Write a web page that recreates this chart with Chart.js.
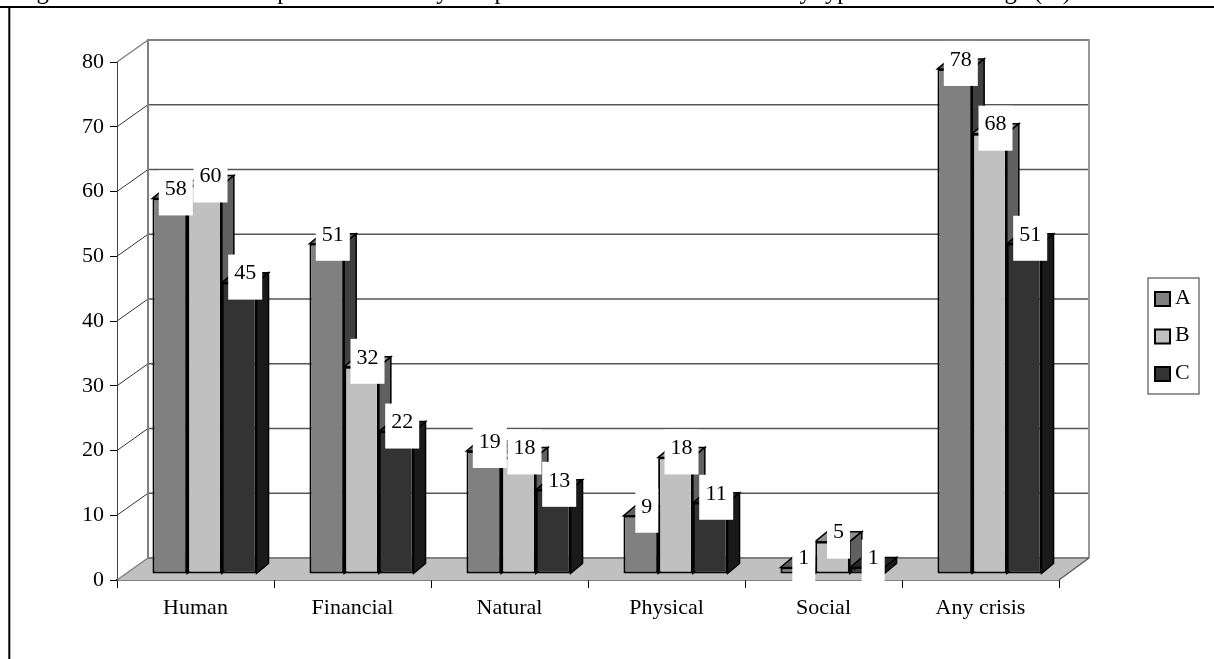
<!DOCTYPE html>
<html>
<head>
<meta charset="utf-8">
<style>
  html, body { margin: 0; padding: 0; background: #fff; overflow: hidden; }
  #wrap { position: relative; width: 1214px; height: 659px; }
</style>
<script src="https://cdn.jsdelivr.net/npm/chart.js@4"></script>
</head>
<body>
<div id="wrap"><canvas id="crisisChart" width="1214" height="659"></canvas></div>
<script>
const categories = ['Human', 'Financial', 'Natural', 'Physical', 'Social', 'Any crisis'];
const seriesA = [58, 51, 19, 9, 1, 78];
const seriesB = [60, 32, 18, 18, 5, 68];
const seriesC = [45, 22, 13, 11, 1, 51];
const titleText = 'Figure 3: Incidence of the past two to five years perceived crises at least once by type of crisis and age (%)';

const serif = '"Liberation Serif", "Times New Roman", serif';
const fontPx = 22;

// fake 3D: depth of the floor/walls, and how far the bars sit inside it
const depthX = 31, depthY = 22;
const barShiftX = 9, barShiftY = 6;
const barDepthX = 12, barDepthY = 10;

const faces = [
  { front: '#808080', top: '#606060', side: '#404040' },
  { front: '#c0c0c0', top: '#909090', side: '#606060' },
  { front: '#333333', top: '#262626', side: '#1a1a1a' }
];

function poly(ctx, pts, fill, stroke, lw) {
  ctx.beginPath();
  pts.forEach((p, i) => i ? ctx.lineTo(p[0], p[1]) : ctx.moveTo(p[0], p[1]));
  ctx.closePath();
  if (fill) { ctx.fillStyle = fill; ctx.fill(); }
  if (stroke) { ctx.strokeStyle = stroke; ctx.lineWidth = lw; ctx.stroke(); }
}

function line(ctx, x1, y1, x2, y2, color, lw) {
  ctx.beginPath();
  ctx.moveTo(x1, y1);
  ctx.lineTo(x2, y2);
  ctx.strokeStyle = color;
  ctx.lineWidth = lw;
  ctx.stroke();
}

// outer frame and the line of text running above it
const framePlugin = {
  id: 'frame',
  beforeDraw(chart) {
    const ctx = chart.ctx;
    ctx.save();
    ctx.fillStyle = '#000';
    ctx.font = '24.7px ' + serif;
    ctx.textBaseline = 'alphabetic';
    ctx.textAlign = 'left';
    ctx.fillText(titleText, 16, -1);
    line(ctx, 0, 7, 1214, 7, '#000', 2);
    line(ctx, 9.3, 6, 9.3, 659, '#000', 2);
    ctx.restore();
  }
};

// back wall, floor, gridlines, then the top and side face of every bar
const wallPlugin = {
  id: 'walls',
  beforeDatasetsDraw(chart) {
    const ctx = chart.ctx;
    const y = chart.scales.y, a = chart.chartArea;
    const y0 = y.getPixelForValue(0), yMax = y.getPixelForValue(80);
    ctx.save();
    y.ticks.forEach(t => {
      if (t.value === 0) return;
      const py = y.getPixelForValue(t.value);
      const top = t.value === 80;
      line(ctx, a.left + depthX, py - depthY, a.right + depthX - 1, py - depthY, top ? '#808080' : '#555', top ? 2 : 1.5);
      line(ctx, a.left, py, a.left + depthX, py - depthY, top ? '#808080' : '#333', top ? 1.5 : 1);
    });
    line(ctx, a.left + depthX, yMax - depthY - 1, a.left + depthX, y0 - depthY, '#808080', 2);
    line(ctx, a.right + depthX - 1, yMax - depthY - 1, a.right + depthX - 1, y0 - depthY, '#999', 2);
    poly(ctx, [[a.left, y0], [a.left + depthX, y0 - depthY], [a.right + depthX - 1, y0 - depthY], [a.right, y0]], '#c0c0c0');
    line(ctx, a.left, y0, a.left + depthX, y0 - depthY, '#808080', 1.5);
    line(ctx, a.left + depthX, y0 - depthY, a.right + depthX - 1, y0 - depthY, '#808080', 2);
    line(ctx, a.right, y0, a.right + depthX - 1, y0 - depthY, '#555', 1.2);

    ctx.translate(barShiftX, -barShiftY);
    chart.data.datasets.forEach((ds, i) => {
      chart.getDatasetMeta(i).data.forEach(bar => {
        const p = bar.getProps(['x', 'y', 'base', 'width']);
        const l = p.x - p.width / 2, r = p.x + p.width / 2;
        poly(ctx, [[l, p.y], [l + barDepthX, p.y - barDepthY], [r + barDepthX, p.y - barDepthY], [r, p.y]], faces[i].top, '#000', 1.5);
        poly(ctx, [[r, p.y], [r + barDepthX, p.y - barDepthY], [r + barDepthX, p.base - barDepthY], [r, p.base]], faces[i].side, '#000', 1.5);
      });
    });
    ctx.restore();
    // front faces get drawn by the library with the same offset
    ctx.save();
    ctx.translate(barShiftX, -barShiftY);
  },
  afterDatasetsDraw(chart) {
    const ctx = chart.ctx;
    ctx.restore();
    ctx.save();
    ctx.translate(barShiftX, -barShiftY);
    // white label tags sit above all the bars
    ctx.font = fontPx + 'px ' + serif;
    ctx.textAlign = 'center';
    ctx.textBaseline = 'middle';
    chart.data.datasets.forEach((ds, i) => {
      chart.getDatasetMeta(i).data.forEach((bar, j) => {
        const p = bar.getProps(['x', 'y']);
        const text = String(ds.data[j]);
        const w = text.length > 1 ? 34 : 23;
        ctx.fillStyle = '#fff';
        ctx.fillRect(p.x + 6 - w / 2, p.y - 28, w, 45);
        ctx.fillStyle = '#000';
        ctx.fillText(text, p.x + 6, p.y - 9);
      });
    });
    ctx.restore();
  }
};

// legend box on the right
const legendPlugin = {
  id: 'sideLegend',
  afterDraw(chart) {
    const ctx = chart.ctx;
    ctx.save();
    ctx.strokeStyle = '#333';
    ctx.lineWidth = 1;
    ctx.strokeRect(1148, 278, 51, 116);
    ctx.font = fontPx + 'px ' + serif;
    ctx.textAlign = 'left';
    ctx.textBaseline = 'middle';
    chart.data.datasets.forEach((ds, i) => {
      const sy = 292 + i * 37.5;
      ctx.fillStyle = ds.backgroundColor;
      ctx.fillRect(1155, sy, 15, 14);
      ctx.strokeStyle = '#000';
      ctx.lineWidth = 2;
      ctx.strokeRect(1155, sy, 15, 14);
      ctx.fillStyle = '#000';
      ctx.fillText(ds.label, 1175, sy + 6);
    });
    ctx.restore();
  }
};

function barSet(label, values, i) {
  return {
    label,
    data: values,
    backgroundColor: faces[i].front,
    borderColor: '#000',
    borderWidth: 2,
    borderSkipped: false,
    categoryPercentage: 0.663,
    barPercentage: 1
  };
}

new Chart(document.getElementById('crisisChart').getContext('2d'), {
  type: 'bar',
  data: {
    labels: categories,
    datasets: [barSet('A', seriesA, 0), barSet('B', seriesB, 1), barSet('C', seriesC, 2)]
  },
  options: {
    responsive: false,
    animation: false,
    layout: { padding: { top: 62, right: 155 } },
    plugins: { legend: { display: false }, tooltip: { enabled: false } },
    scales: {
      x: {
        z: 1,
        afterFit: s => { s.height = 79; },
        grid: { drawOnChartArea: false, color: '#000', tickLength: 8, offset: true },
        border: { color: '#000', width: 1.5 },
        ticks: { color: '#000', font: { family: serif, size: fontPx }, padding: 7, maxRotation: 0 }
      },
      y: {
        z: 1,
        min: 0,
        max: 80,
        afterFit: s => { s.width = 117; },
        grid: { drawOnChartArea: false, color: '#000', tickLength: 7 },
        border: { color: '#444', width: 1 },
        ticks: { stepSize: 10, color: '#000', font: { family: serif, size: fontPx }, padding: 6 }
      }
    }
  },
  plugins: [framePlugin, wallPlugin, legendPlugin]
});
</script>
</body>
</html>
